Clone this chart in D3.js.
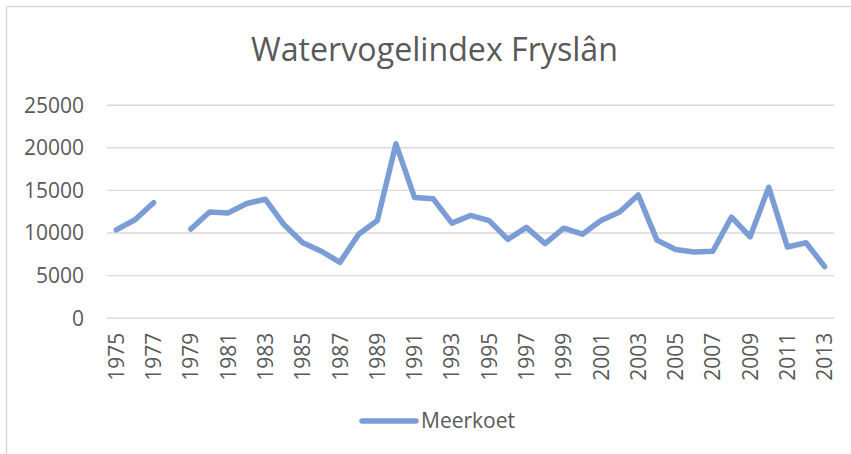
<!DOCTYPE html>
<html>
<head>
<meta charset="utf-8">
<script src="https://cdn.jsdelivr.net/npm/d3@7"></script>
<style>
  html, body { margin: 0; padding: 0; background: #fff; }
  svg { display: block; }
</style>
</head>
<body>
<svg id="chart" width="851" height="454"></svg>
<script>
const chartTitle = "Watervogelindex Fryslân";
const seriesName = "Meerkoet";
const years = [1975,1976,1977,1978,1979,1980,1981,1982,1983,1984,1985,1986,1987,1988,1989,1990,1991,1992,1993,1994,1995,1996,1997,1998,1999,2000,2001,2002,2003,2004,2005,2006,2007,2008,2009,2010,2011,2012,2013];
const values = [10300,11500,13500,null,10400,12400,12300,13400,13900,10900,8800,7800,6500,9800,11400,20400,14100,13950,11100,12000,11400,9200,10600,8700,10500,9800,11400,12400,14400,9100,8000,7700,7800,11800,9500,15300,8300,8800,6000];
const yTicks = [0,5000,10000,15000,20000,25000];
const xTickLabels = years.filter((y, i) => i % 2 === 0);

const svg = d3.select("#chart");
const W = 851, H = 454;
const plot = { left: 107, right: 834, top: 104.7, bottom: 317.7 };
const textColor = "#595959";
const gridColor = "#d9d9d9";
const lineColor = "#7b9dd6";
const font = "'Open Sans', 'Liberation Sans', sans-serif";

// chart border
svg.append("rect")
  .attr("x", 6.5).attr("y", 6.5)
  .attr("width", W + 10).attr("height", H + 10)
  .attr("fill", "none").attr("stroke", gridColor).attr("stroke-width", 1.5);

const x = d3.scaleBand().domain(years).range([plot.left, plot.right]).padding(0);
const y = d3.scaleLinear().domain([0, 25000]).range([plot.bottom, plot.top]);

// gridlines + y labels via axis
const yAxis = d3.axisLeft(y).tickValues(yTicks).tickSize(-(plot.right - plot.left)).tickPadding(23).tickFormat(d3.format("d"));
const gy = svg.append("g").attr("transform", `translate(${plot.left},0)`).call(yAxis);
gy.select(".domain").remove();
gy.selectAll(".tick line").attr("stroke", gridColor).attr("stroke-width", 1.4);
gy.selectAll(".tick text").attr("fill", textColor).attr("font-family", font).attr("font-size", 21).attr("dy", "0.35em");

// x axis labels
const xAxis = d3.axisBottom(x).tickValues(xTickLabels).tickSize(0).tickFormat(d3.format("d"));
const gx = svg.append("g").attr("transform", `translate(0,${plot.bottom})`).call(xAxis);
gx.select(".domain").remove();
gx.selectAll(".tick text")
  .attr("fill", textColor).attr("font-family", font).attr("font-size", 21)
  .attr("text-anchor", "end")
  .attr("transform", "rotate(-90)")
  .attr("x", -15).attr("y", 0).attr("dy", "0.36em");

// line
const line = d3.line()
  .defined(d => d.v != null)
  .x(d => x(d.year) + x.bandwidth() / 2)
  .y(d => y(d.v));
const data = years.map((yr, i) => ({ year: yr, v: values[i] }));
svg.append("path")
  .datum(data)
  .attr("d", line)
  .attr("fill", "none")
  .attr("stroke", lineColor)
  .attr("stroke-width", 5.5)
  .attr("stroke-linejoin", "round")
  .attr("stroke-linecap", "round");

// title
const title = svg.append("text")
  .attr("x", 434.5).attr("y", 61)
  .attr("text-anchor", "middle")
  .attr("fill", textColor).attr("font-family", font)
  .attr("font-size", 32)
  .text(chartTitle);
const tw = title.node().getComputedTextLength();
title.attr("font-size", 32 * 367 / tw);

// legend
svg.append("line")
  .attr("x1", 362).attr("x2", 416).attr("y1", 421).attr("y2", 421)
  .attr("stroke", lineColor).attr("stroke-width", 5.5).attr("stroke-linecap", "round");
const leg = svg.append("text")
  .attr("x", 421).attr("y", 428)
  .attr("fill", textColor).attr("font-family", font).attr("font-size", 21)
  .text(seriesName);
const lw = leg.node().getComputedTextLength();
leg.attr("font-size", 21 * 94 / lw);
</script>
</body>
</html>
